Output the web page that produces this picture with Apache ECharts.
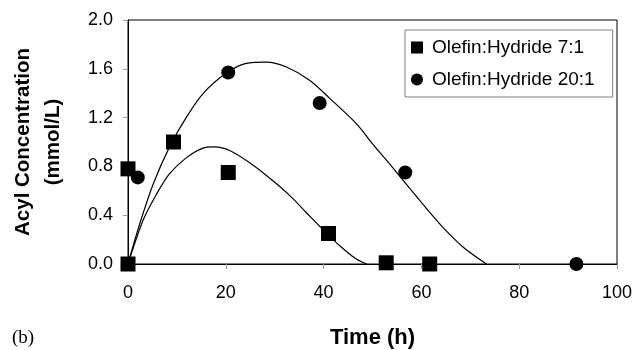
<!DOCTYPE html>
<html>
<head>
<meta charset="utf-8">
<script src="https://cdn.jsdelivr.net/npm/echarts@6/dist/echarts.min.js"></script>
<style>
  html, body { margin: 0; padding: 0; background: #fff; }
  #chart { width: 636px; height: 350px; }
</style>
</head>
<body>
<div id="chart"></div>
<script>
// measured points
const ratio7 = [[0, 0.78], [0, 0.0], [9.3, 1.0], [20.5, 0.75], [41, 0.25], [52.8, 0.01], [61.7, 0.0]];
const ratio20 = [[2.0, 0.71], [20.5, 1.57], [39.2, 1.32], [56.7, 0.75], [91.7, 0.0]];

// fitted curves
const fit7 = [[0, 0], [3.1, 0.36], [5.8, 0.57], [8.5, 0.74], [11.9, 0.87], [15.3, 0.95],
  [17.7, 0.96], [20.8, 0.93], [25.6, 0.81], [29.7, 0.68], [33.1, 0.56], [36.5, 0.42], [39.9, 0.28],
  [43.3, 0.15], [46.7, 0.04], [48.8, 0]];
const fit20 = [[0, 0], [2.4, 0.33], [5.2, 0.66], [8.5, 0.96], [11.9, 1.2], [15.3, 1.395],
  [20.1, 1.565], [24.2, 1.645], [28.3, 1.655], [32.4, 1.615], [37.2, 1.505], [41.2, 1.36], [46.7, 1.15],
  [50.1, 0.98], [53.5, 0.82], [56.9, 0.655], [60.3, 0.49], [64.4, 0.30], [68.5, 0.14], [73.3, 0]];

const xTicks = [0, 20, 40, 60, 80, 100];
const yTicks = [0, 0.4, 0.8, 1.2, 1.6, 2.0];

const chart = echarts.init(document.getElementById('chart'));
const font = 'Arial, "Liberation Sans", sans-serif';

const option = {
  animation: false,
  textStyle: { fontFamily: font, color: '#000' },
  grid: {
    left: 128, right: 19, top: 20, bottom: 86,
    outerBoundsMode: 'none',
    containLabel: false,
    show: true, borderColor: '#000', borderWidth: 1, backgroundColor: 'transparent'
  },
  legend: {
    orient: 'vertical',
    left: 405, top: 30,
    data: [
      { name: 'Olefin:Hydride 7:1', icon: 'rect' },
      { name: 'Olefin:Hydride 20:1', icon: 'circle' }
    ],
    itemWidth: 12, itemHeight: 12, itemGap: 13,
    padding: [8, 18, 8, 6],
    borderColor: '#808080', borderWidth: 1,
    backgroundColor: '#fff',
    itemStyle: { opacity: 1 },
    textStyle: { fontSize: 19, fontFamily: font, color: '#000', padding: [0, 0, 0, 4] }
  },
  xAxis: {
    type: 'value',
    min: 0, max: 100, interval: 20,
    name: 'Time (h)',
    nameLocation: 'middle',
    nameGap: 63,
    nameTextStyle: { fontSize: 22, fontWeight: 'bold', fontFamily: font, color: '#000' },
    axisLine: { show: true, lineStyle: { color: '#000', width: 1 } },
    axisTick: { show: true, inside: false, length: 5, lineStyle: { color: '#999' } },
    axisLabel: { fontSize: 18, color: '#000', margin: 20, formatter: v => xTicks.includes(v) ? String(v) : '' },
    splitLine: { show: false }
  },
  yAxis: {
    type: 'value',
    min: 0, max: 2, interval: 0.4,
    name: 'Acyl Concentration\n(mmol/L)',
    nameLocation: 'middle',
    nameGap: 60,
    nameTextStyle: { fontSize: 20.5, fontWeight: 'bold', fontFamily: font, color: '#000', lineHeight: 30 },
    axisLine: { show: true, lineStyle: { color: '#000', width: 1 } },
    axisTick: { show: true, inside: false, length: 5, lineStyle: { color: '#999' } },
    axisLabel: { fontSize: 18, color: '#000', margin: 15, formatter: v => v.toFixed(1) },
    splitLine: { show: false }
  },
  graphic: [
    {
      type: 'text', left: 12, top: 329,
      style: { text: '(b)', fontSize: 19, fontFamily: '"Times New Roman", "Liberation Serif", serif', fill: '#000' }
    }
  ],
  series: [
    {
      name: 'fit7', type: 'line', data: fit7, smooth: 0.3, showSymbol: false,
      lineStyle: { color: '#000', width: 1.2 }, silent: true, z: 2
    },
    {
      name: 'fit20', type: 'line', data: fit20, smooth: 0.3, showSymbol: false,
      lineStyle: { color: '#000', width: 1.2 }, silent: true, z: 2
    },
    {
      name: 'Olefin:Hydride 7:1', type: 'scatter', data: ratio7,
      symbol: 'rect', symbolSize: 15, itemStyle: { color: '#000', opacity: 1 }, z: 3
    },
    {
      name: 'Olefin:Hydride 20:1', type: 'scatter', data: ratio20,
      symbol: 'circle', symbolSize: 14, itemStyle: { color: '#000', opacity: 1 }, z: 3
    }
  ]
};

chart.setOption(option);
</script>
</body>
</html>
